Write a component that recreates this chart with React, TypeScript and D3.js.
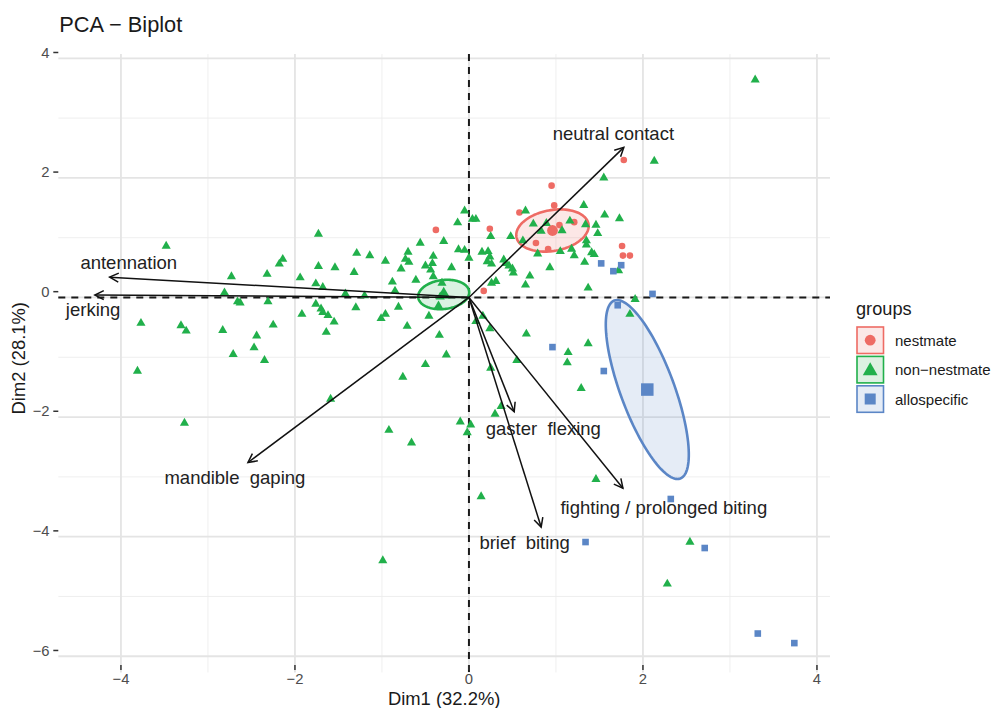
import * as d3 from "d3";

// Individuals (PCA coordinates)
const nestmate: [number, number][] = [
  [1.78, 2.3], [0.95, 1.87], [0.98, 1.54], [0.58, 1.42], [0.24, 1.15], [1.21, 1.26], [1.04, 1.21],
  [0.77, 0.91], [0.91, 0.81], [1.76, 0.86], [1.77, 0.7], [1.85, 0.7], [0.17, 0.11], [-0.38, 1.13],
];

const nonNestmate: [number, number][] = [
  [-3.48, 0.86], [-2.73, 0.35], [-2.32, 0.39], [-2.81, 0.08], [-2.66, -0.07], [-2.63, -0.09], [-2.31, -0.07],
  [-3.77, -0.43], [-3.31, -0.47], [-3.25, -0.56], [-2.83, -0.55], [-2.44, -0.64], [-2.47, -0.84], [-2.71, -0.95],
  [-2.35, -1.05], [-3.81, -1.23], [-0.05, 1.45], [-0.13, 1.25], [0.04, 1.31], [0.08, 1.31], [-1.73, 1.06],
  [-0.56, 0.91], [-0.29, 0.94], [-0.12, 0.8], [-0.05, 0.79], [-0.7, 0.76], [-1.29, 0.74], [-1.14, 0.7],
  [-2.14, 0.64], [-2.18, 0.56], [-0.41, 0.69], [-0.73, 0.64], [-0.69, 0.59], [-0.96, 0.61], [0.0, 0.66],
  [-0.5, 0.53], [-0.42, 0.57], [-1.73, 0.52], [-1.54, 0.5], [-0.2, 0.5], [-0.78, 0.48], [-0.44, 0.46],
  [-1.32, 0.42], [-0.41, 0.35], [-1.94, 0.33], [-0.61, 0.29], [-0.88, 0.26], [-1.76, 0.23], [-1.68, 0.17],
  [-0.31, 0.24], [-0.85, 0.11], [-1.42, 0.06], [-1.2, 0.03], [-0.33, 0.01], [-0.35, -0.14], [-1.76, -0.11],
  [-1.7, -0.19], [-1.68, -0.25], [-1.3, -0.17], [-0.81, -0.16], [-1.92, -0.28], [-1.62, -0.3], [-0.96, -0.28],
  [-1.01, -0.35], [-0.46, -0.31], [-1.55, -0.41], [-2.25, -0.46], [-0.71, -0.48], [-1.64, -0.58], [-0.34, -0.63],
  [0.08, -0.4], [-0.26, -0.96], [-0.5, -1.12], [-0.76, -1.33], [-1.59, -1.7], [-3.27, -2.1], [-0.1, -2.08],
  [0.02, -2.13], [-0.02, -2.26], [-0.92, -2.22], [-0.66, -2.43], [0.14, -3.33], [-0.99, -4.4],
  [2.13, 2.28], [1.55, 2.0], [1.32, 1.54], [0.65, 1.45], [1.56, 1.38], [1.73, 1.32], [0.74, 1.23],
  [0.89, 1.24], [1.16, 1.28], [1.34, 1.22], [1.46, 1.21], [1.07, 1.12], [0.83, 1.11], [1.48, 1.07],
  [0.25, 1.02], [0.48, 1.02], [0.62, 0.95], [1.35, 0.95], [1.35, 0.88], [0.15, 0.76], [0.22, 0.77],
  [0.24, 0.68], [0.21, 0.6], [0.26, 0.56], [0.4, 0.63], [0.42, 0.57], [0.46, 0.53], [0.5, 0.48],
  [0.51, 0.41], [0.79, 0.73], [1.05, 0.77], [1.18, 0.81], [1.21, 0.7], [1.41, 0.75], [1.44, 0.72],
  [1.33, 0.59], [0.93, 0.5], [0.7, 0.36], [0.65, 0.21], [0.26, 0.24], [0.31, 0.27], [1.37, 0.16],
  [1.72, 0.45], [1.91, -0.03], [1.85, -0.28], [0.16, -0.31], [0.24, -0.52], [0.66, -0.61], [1.14, -0.92],
  [1.37, -0.77], [0.55, -1.05], [0.25, -1.18], [1.13, -1.09], [1.29, -1.52], [0.37, -1.82], [0.3, -1.95],
  [1.46, -3.04], [2.54, -4.09], [2.28, -4.79], [3.29, 3.64],
];

const allospecific: [number, number][] = [
  [1.52, 0.57], [1.75, 0.54], [1.66, 0.44], [2.11, 0.06], [1.71, -0.13], [0.96, -0.83],
  [1.55, -1.23], [2.32, -3.37], [1.34, -4.09], [2.71, -4.19], [3.32, -5.62], [3.74, -5.78],
];

// Groups: centre (mean) and confidence ellipse axes
const groupNames = ["nestmate", "non\u2212nestmate", "allospecific"];
const groupColors = ["#EE6B64", "#21B04B", "#5B86C6"];
const groupFills = ["#FBE8E7", "#DDF1E2", "#E5ECF6"];
const groupCenterX = [0.96, -0.29, 2.05];
const groupCenterY = [1.12, 0.05, -1.54];
const ellipseUx = [0.414, 0.293, 0.379];
const ellipseUy = [0.109, 0.05, -1.488];
const ellipseVx = [0.042, 0.019, 0.29];
const ellipseVy = [-0.336, -0.241, 0.156];

// Variables (arrows)
const varNames = [
  "neutral contact", "antennation", "jerking", "mandible  gaping",
  "gaster  flexing", "fighting / prolonged biting", "brief  biting",
];
const varX = [1.78, -4.13, -4.3, -2.54, 0.52, 1.77, 0.83];
const varY = [2.51, 0.34, 0.04, -2.76, -1.91, -3.19, -3.84];
const varLabelX = [1.66, -3.91, -4.32, -2.69, 0.855, 2.24, 0.64];
const varLabelY = [2.63, 0.47, -0.31, -3.12, -2.3, -3.62, -4.21];

const xMajor = [-4, -2, 0, 2, 4];
const xMinor = [-3, -1, 1, 3];
const yMajor = [-6, -4, -2, 0, 2, 4];
const yMinor = [-5, -3, -1, 1, 3];

const fmt = (v: number) => (v < 0 ? "\u2212" + Math.abs(v) : String(v));

export default function App() {
  const W = 992;
  const H = 708;
  const left = 58.3, right = 830, top = 54.1, bottom = 672.4;
  const x = d3.scaleLinear().domain([-4.72, 4.15]).range([left, right]);
  const y = d3.scaleLinear().domain([-6.27, 4.07]).range([bottom, top]);
  const font = "'Liberation Sans', Arial, Helvetica, sans-serif";

  const tri = (size: number) => d3.symbol(d3.symbolTriangle, size)();
  const shapes = [
    (cx: number, cy: number, big: boolean, c: string, k: string) => (
      <circle key={k} cx={cx} cy={cy} r={big ? 5.4 : 3.3} fill={c} />
    ),
    (cx: number, cy: number, big: boolean, c: string, k: string) => (
      <path key={k} d={tri(big ? 80 : 36) || ""} transform={`translate(${cx},${cy})`} fill={c} />
    ),
    (cx: number, cy: number, big: boolean, c: string, k: string) => {
      const s = big ? 12.5 : 6.6;
      return <rect key={k} x={cx - s / 2} y={cy - s / 2} width={s} height={s} fill={c} />;
    },
  ];
  const groups = [nestmate, nonNestmate, allospecific];

  const ellipsePath = (g: number) => {
    const pts = d3.range(0, 2 * Math.PI, Math.PI / 60).map((t) => [
      x(groupCenterX[g] + ellipseUx[g] * Math.cos(t) + ellipseVx[g] * Math.sin(t)),
      y(groupCenterY[g] + ellipseUy[g] * Math.cos(t) + ellipseVy[g] * Math.sin(t)),
    ] as [number, number]);
    return d3.line().curve(d3.curveLinearClosed)(pts) || "";
  };

  const ox = x(0), oy = y(0);
  const headLen = 10, headAng = (27 * Math.PI) / 180;

  return (
    <svg width={W} height={H} style={{ position: "fixed", left: 0, top: 0, background: "#fff" }}
      fontFamily={font}>
      {/* grid */}
      <g>
        {xMinor.map((v) => (
          <line key={"xm" + v} x1={x(v)} x2={x(v)} y1={top} y2={bottom} stroke="#EDEDED" strokeWidth={0.9} />
        ))}
        {yMinor.map((v) => (
          <line key={"ym" + v} x1={left} x2={right} y1={y(v)} y2={y(v)} stroke="#EDEDED" strokeWidth={0.9} />
        ))}
        {xMajor.map((v) => (
          <line key={"xM" + v} x1={x(v)} x2={x(v)} y1={top} y2={bottom} stroke="#E4E4E4" strokeWidth={1.8} />
        ))}
        {yMajor.map((v) => (
          <line key={"yM" + v} x1={left} x2={right} y1={y(v)} y2={y(v)} stroke="#E4E4E4" strokeWidth={1.8} />
        ))}
      </g>
      {/* reference lines */}
      <line x1={x(0)} x2={x(0)} y1={top} y2={bottom} stroke="#1a1a1a" strokeWidth={2} strokeDasharray="7,6" />
      <line x1={left} x2={right} y1={y(0)} y2={y(0)} stroke="#1a1a1a" strokeWidth={2} strokeDasharray="7,6" />

      {/* ellipses */}
      {groupNames.map((n, g) => (
        <path key={"el" + g} d={ellipsePath(g)} fill={groupColors[g]} fillOpacity={0.16}
          stroke={groupColors[g]} strokeWidth={2.6} />
      ))}

      {/* individuals */}
      {groups.map((pts, g) =>
        pts.map((p, i) => shapes[g](x(p[0]), y(p[1]), false, groupColors[g], `p${g}-${i}`))
      )}
      {/* group means */}
      {groupNames.map((n, g) => shapes[g](x(groupCenterX[g]), y(groupCenterY[g]), true, groupColors[g], "m" + g))}

      {/* variable arrows */}
      {varNames.map((n, i) => {
        const tx = x(varX[i]), ty = y(varY[i]);
        const a = Math.atan2(ty - oy, tx - ox);
        const h1 = [tx - headLen * Math.cos(a - headAng), ty - headLen * Math.sin(a - headAng)];
        const h2 = [tx - headLen * Math.cos(a + headAng), ty - headLen * Math.sin(a + headAng)];
        return (
          <g key={"v" + i} stroke="#111" strokeWidth={1.5} fill="none">
            <line x1={ox} y1={oy} x2={tx} y2={ty} />
            <polyline points={`${h1[0]},${h1[1]} ${tx},${ty} ${h2[0]},${h2[1]}`} />
          </g>
        );
      })}
      {varNames.map((n, i) => (
        <text key={"vl" + i} x={x(varLabelX[i])} y={y(varLabelY[i])} textAnchor="middle" fontSize={18.5}
          fill="#222" style={{ whiteSpace: "pre" }}>
          {n}
        </text>
      ))}

      {/* axes */}
      {xMajor.map((v) => (
        <g key={"xt" + v}>
          <line x1={x(v)} x2={x(v)} y1={665} y2={670} stroke="#333" strokeWidth={1.5} />
          <text x={x(v)} y={683.5} textAnchor="middle" fontSize={14.8} fill="#4D4D4D">{fmt(v)}</text>
        </g>
      ))}
      {yMajor.map((v) => (
        <g key={"yt" + v}>
          <line x1={53.3} x2={58.3} y1={y(v) - 5.8} y2={y(v) - 5.8} stroke="#333" strokeWidth={1.5} />
          <text x={49.5} y={y(v) - 0.6} textAnchor="end" fontSize={14.8} fill="#4D4D4D">{fmt(v)}</text>
        </g>
      ))}
      <text x={(left + right) / 2} y={705} textAnchor="middle" fontSize={18.4} fill="#1a1a1a">Dim1 (32.2%)</text>
      <text transform={`translate(25,${(top + bottom) / 2 - 5}) rotate(-90)`} textAnchor="middle" fontSize={18.4}
        fill="#1a1a1a">Dim2 (28.1%)</text>
      <text x={59.3} y={32.3} fontSize={21.8} fill="#1a1a1a">PCA {"\u2212"} Biplot</text>

      {/* legend */}
      <text x={856} y={315} fontSize={18.2} fill="#1a1a1a">groups</text>
      {groupNames.map((n, g) => {
        const ky = 327 + g * 29.4;
        return (
          <g key={"lg" + g}>
            <rect x={857} y={ky} width={26.5} height={26.5} fill={groupFills[g]} stroke={groupColors[g]} strokeWidth={1.6} />
            {g === 0 && <circle cx={870.2} cy={ky + 13.2} r={5.4} fill={groupColors[g]} />}
            {g === 1 && <path d={tri(95) || ""} transform={`translate(870.2,${ky + 14.5})`} fill={groupColors[g]} />}
            {g === 2 && <rect x={864.7} y={ky + 7.7} width={11} height={11} fill={groupColors[g]} />}
            <text x={895} y={ky + 18.8} fontSize={15} fill="#1a1a1a">{n}</text>
          </g>
        );
      })}
    </svg>
  );
}
